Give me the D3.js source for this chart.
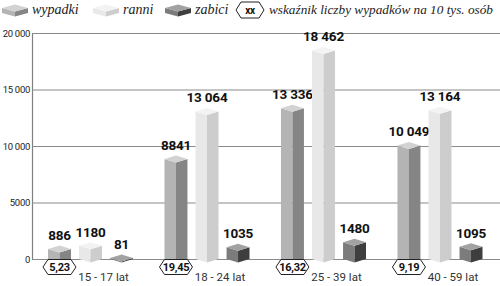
<!DOCTYPE html>
<html>
<head>
<meta charset="utf-8">
<script src="https://cdn.jsdelivr.net/npm/d3@7"></script>
<style>
  body { margin: 0; background: #fff; }
  svg { display: block; }
</style>
</head>
<body>
<div id="chart"></div>
<script>
// data
var categories = ["15 - 17 lat", "18 - 24 lat", "25 - 39 lat", "40 - 59 lat"];
var seriesNames = ["wypadki", "ranni", "zabici"];
var wypadki = [886, 8841, 13336, 10049];
var ranni = [1180, 13064, 18462, 13164];
var zabici = [81, 1035, 1480, 1095];
var wskaznik = ["5,23", "19,45", "16,32", "9,19"];
var yTicks = [0, 5000, 10000, 15000, 20000];
var legendNote = "wskaźnik liczby wypadków na 10 tys. osób";

var width = 500, height = 286;

var svg = d3.select("#chart")
  .append("svg")
  .attr("width", width)
  .attr("height", height);

// colours of each box: left face, right face, top
var colors = {
  wypadki: { left: "#b4b4b4", right: "#858585", top: "#d2d2d2" },
  ranni:   { left: "#e8e8e8", right: "#cdcdcd", top: "#f3f3f3" },
  zabici:  { left: "#7c7c7c", right: "#3e3e3e", top: "#a2a2a2" }
};

var yScale = d3.scaleLinear().domain([0, 20000]).range([259, 33]);

var xGroup = d3.scaleBand()
  .domain(categories)
  .range([48, 482.5])
  .paddingInner(0.27)
  .paddingOuter(0);

var xInner = d3.scaleBand()
  .domain(seriesNames)
  .range([0, xGroup.bandwidth()])
  .paddingInner(0.26)
  .paddingOuter(0);

function fmt(v) {
  if (v >= 10000) return d3.format(",")(v).replace(/,/g, " ");
  return String(v);
}

// axis + gridlines
var yAxis = d3.axisLeft(yScale)
  .tickValues(yTicks)
  .tickSize(-(width - 32))
  .tickPadding(2)
  .tickFormat(fmt);

var axisG = svg.append("g")
  .attr("class", "axis y-axis")
  .attr("transform", "translate(32,0)")
  .call(yAxis);

axisG.select(".domain").attr("stroke", "#808080").attr("stroke-width", 1.2);
axisG.selectAll(".tick line").attr("stroke", "#8a8a8a").attr("stroke-width", 1.2);
axisG.selectAll(".tick text")
  .attr("fill", "#222")
  .style("font-family", "Roboto, sans-serif")
  .style("font-size", "9.5px")
  .style("letter-spacing", "-0.3px");

// 3D box
function drawBox(g, x, w, yTop, yBottom, d, c) {
  var xm = x + w / 2;
  var xr = x + w;
  g.append("polygon")
    .attr("points", [[x, yTop], [xm, yTop + d], [xm, yBottom + d], [x, yBottom]].join(" "))
    .attr("fill", c.left);
  g.append("polygon")
    .attr("points", [[xm, yTop + d], [xr, yTop], [xr, yBottom], [xm, yBottom + d]].join(" "))
    .attr("fill", c.right);
  g.append("polygon")
    .attr("points", [[x, yTop], [xm, yTop - d], [xr, yTop], [xm, yTop + d]].join(" "))
    .attr("fill", c.top);
}

function hexagon(g, cx, cy, w, h, label, fontSize) {
  var p = 5;
  g.append("polygon")
    .attr("points", [
      [cx - w / 2, cy], [cx - w / 2 + p, cy - h / 2], [cx + w / 2 - p, cy - h / 2],
      [cx + w / 2, cy], [cx + w / 2 - p, cy + h / 2], [cx - w / 2 + p, cy + h / 2]
    ].join(" "))
    .attr("fill", "#fff")
    .attr("stroke", "#222")
    .attr("stroke-width", 1);
  g.append("text")
    .attr("x", cx)
    .attr("y", cy + fontSize * 0.36)
    .attr("text-anchor", "middle")
    .style("font-family", "Roboto, sans-serif")
    .style("font-weight", "bold")
    .style("font-size", fontSize + "px")
    .style("letter-spacing", "-0.3px")
    .attr("fill", "#111")
    .text(label);
}

var valuesBySeries = { wypadki: wypadki, ranni: ranni, zabici: zabici };

var bars = svg.append("g").attr("class", "bars");

categories.forEach(function(cat, i) {
  seriesNames.forEach(function(s) {
    var v = valuesBySeries[s][i];
    var x = xGroup(cat) + xInner(s);
    var w = xInner.bandwidth();
    var yTop = Math.min(yScale(v), yScale(0) - 1);
    drawBox(bars, x, w, yTop, yScale(0), 3.5, colors[s]);

    bars.append("text")
      .attr("x", x + w / 2)
      .attr("y", yTop - 9)
      .attr("text-anchor", "middle")
      .style("font-family", "Roboto, sans-serif")
      .style("font-weight", "bold")
      .style("font-size", "13.5px")
      .style("letter-spacing", "-0.2px")
      .attr("fill", "#111")
      .text(fmt(v));
  });

  // indicator badge under the first bar
  var bx = xGroup(cat) + xInner("wypadki") + xInner.bandwidth() / 2;
  hexagon(bars, bx, 267, 33, 15, wskaznik[i], 11);

  bars.append("text")
    .attr("x", xGroup(cat) + xGroup.bandwidth() / 2 + 13)
    .attr("y", 281)
    .attr("text-anchor", "middle")
    .style("font-family", "Roboto, sans-serif")
    .style("font-size", "11.5px")
    .attr("fill", "#333")
    .text(cat);
});

// legend
var legend = svg.append("g").attr("class", "legend");
var legendX = [2, 93, 165];
seriesNames.forEach(function(s, i) {
  drawBox(legend, legendX[i], 26, 8, 13, 3.5, colors[s]);
  legend.append("text")
    .attr("x", legendX[i] + 30)
    .attr("y", 14)
    .style("font-family", "'Liberation Serif', serif")
    .style("font-style", "italic")
    .style("font-size", "14px")
    .attr("fill", "#222")
    .text(s);
});
hexagon(legend, 250, 10, 28, 16, "xx", 10);
legend.append("text")
  .attr("x", 269)
  .attr("y", 14)
  .attr("textLength", 224)
  .attr("lengthAdjust", "spacingAndGlyphs")
  .style("font-family", "'Liberation Serif', serif")
  .style("font-style", "italic")
  .style("font-size", "13.5px")
  .attr("fill", "#222")
  .text(legendNote);
</script>
</body>
</html>
